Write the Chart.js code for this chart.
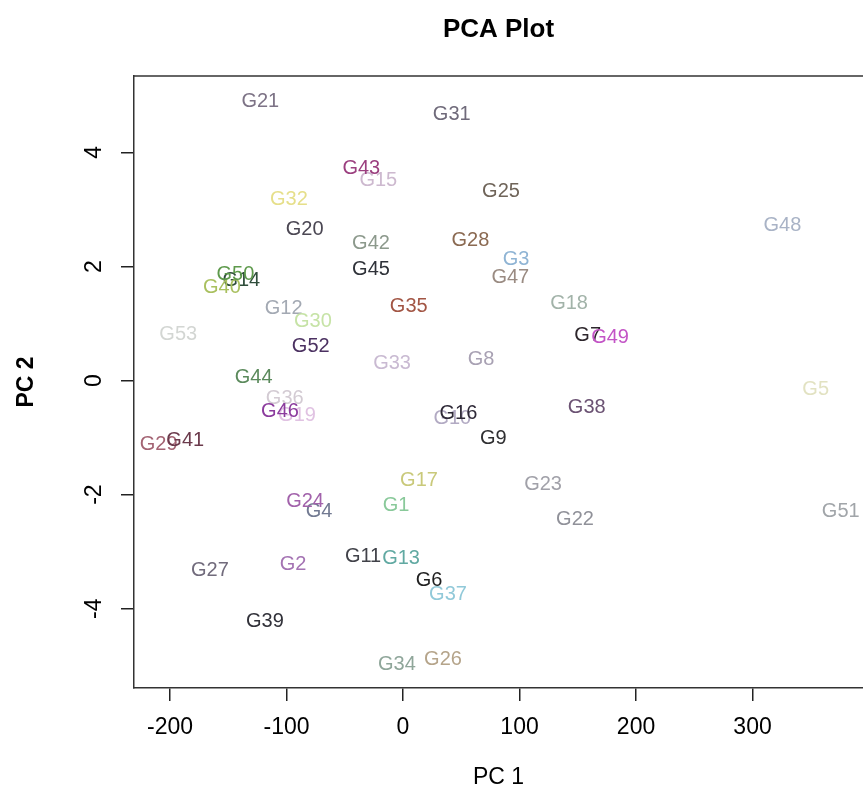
<!DOCTYPE html>
<html>
<head>
<meta charset="utf-8">
<style>
  html, body { margin: 0; padding: 0; background: #ffffff; }
  #wrap { width: 863px; height: 787px; }
</style>
<script src="https://cdn.jsdelivr.net/npm/chart.js@4.4.1/dist/chart.umd.min.js"></script>
</head>
<body>
<div id="wrap"><canvas id="c" width="863" height="787"></canvas></div>
<script>
// ---- data ----
const sampleNames = ["G1","G2","G3","G4","G5","G6","G7","G8","G9","G10",
  "G11","G12","G13","G14","G15","G16","G17","G18","G19","G20",
  "G21","G22","G23","G24","G25","G26","G27","G28","G29","G30",
  "G31","G32","G33","G34","G35","G36","G37","G38","G39","G40",
  "G41","G42","G43","G44","G45","G46","G47","G48","G49","G50",
  "G51","G52","G53"];
const pc1 = [-6.0,-94.4,97.0,-72.1,354.2,22.3,158.5,67.0,77.5,42.3,
  -34.3,-102.4,-1.7,-138.8,-21.2,47.5,13.7,142.5,-91.0,-84.4,
  -122.5,147.6,120.2,-84.1,84.1,34.3,-165.7,57.8,-209.7,-77.3,
  41.8,-97.9,-9.4,-5.2,4.9,-101.5,38.6,157.7,-118.5,-155.4,
  -186.9,-27.5,-35.8,-128.2,-27.5,-105.6,92.1,325.6,177.7,-143.9,
  375.7,-79.2,-192.9];
const pc2 = [-2.18,-3.20,2.14,-2.27,-0.14,-3.48,0.80,0.38,-0.99,-0.64,
  -3.06,1.29,-3.10,1.78,3.52,-0.56,-1.73,1.37,-0.59,2.66,
  4.91,-2.41,-1.80,-2.10,3.34,-4.87,-3.32,2.48,-1.10,1.06,
  4.68,3.19,0.31,-4.96,1.31,-0.29,-3.73,-0.46,-4.20,1.65,
  -1.03,2.42,3.74,0.07,1.96,-0.53,1.83,2.74,0.78,1.88,
  -2.27,0.62,0.82];
const labelColors = ["#89c99a","#a473b3","#8fb4d4","#727a92","#e2e2c2","#1f1f1f","#2d262c","#a8a1b3","#2f2f31","#b2aac3",
  "#414249","#a3a9b3","#61a9a2","#2f4d3b","#cdb9cf","#2e2937","#c9c97a","#a2b3a9","#e0c2e2","#4b4753",
  "#7d7386","#909199","#a1a1a9","#a262ab","#6f6459","#b5a48a","#716b7c","#8b6a52","#a36373","#c6e3a6",
  "#6f6a7a","#e6df8a","#c9bad2","#8fa69a","#a25544","#d3cbd3","#91c9d9","#6b5273","#313139","#a9c05f",
  "#6b3a4c","#8c998c","#9b3f7f","#5b8a5c","#2f3239","#8b3b9d","#9a8b82","#a9b3c6","#c354c6","#5e9a4c",
  "#a1a5a9","#4b3161","#d3d6d3"];
const xTickStep = 100;
const yTickStep = 2;
const xRange = [-230.9, 394.8];
const yRange = [-5.39, 5.34];
const titleText = "PCA Plot";
const xTitle = "PC 1";
const yTitle = "PC 2";

const FONT = "'Liberation Sans', Arial, Helvetica, sans-serif";

const points = pc1.map((v, i) => ({ x: v, y: pc2[i] }));

const textLabelPlugin = {
  id: 'textLabels',
  afterDatasetsDraw(chart) {
    const ctx = chart.ctx;
    const meta = chart.getDatasetMeta(0);
    const a = chart.chartArea;
    ctx.save();
    ctx.beginPath();
    ctx.rect(a.left, a.top, a.right - a.left, a.bottom - a.top);
    ctx.clip();
    ctx.font = "20px " + FONT;
    ctx.textAlign = 'center';
    ctx.textBaseline = 'middle';
    meta.data.forEach((el, i) => {
      ctx.fillStyle = labelColors[i];
      ctx.fillText(sampleNames[i], el.x, el.y + 1);
    });
    ctx.restore();
  }
};

const framePlugin = {
  id: 'frame',
  afterDraw(chart) {
    const ctx = chart.ctx;
    const a = chart.chartArea;
    ctx.save();
    // top edge of the box
    ctx.strokeStyle = '#333333';
    ctx.lineWidth = 1.5;
    ctx.beginPath();
    ctx.moveTo(a.left, a.top);
    ctx.lineTo(a.right, a.top);
    ctx.stroke();
    // main title centred over the plot region
    ctx.fillStyle = '#000000';
    ctx.font = "bold 26px " + FONT;
    ctx.textAlign = 'center';
    ctx.textBaseline = 'middle';
    ctx.fillText(titleText, (a.left + a.right) / 2, 30);
    // rotated y tick labels (R style)
    const ys = chart.scales.y;
    ctx.font = "23px " + FONT;
    ys.ticks.forEach(t => {
      const py = ys.getPixelForValue(t.value);
      ctx.save();
      ctx.translate(95, py);
      ctx.rotate(-Math.PI / 2);
      ctx.fillText(String(t.value), 0, 0);
      ctx.restore();
    });
    ctx.restore();
  }
};

new Chart(document.getElementById('c'), {
  type: 'scatter',
  data: {
    datasets: [{
      data: points,
      pointRadius: 0,
      pointHoverRadius: 0,
      showLine: false
    }]
  },
  options: {
    responsive: false,
    animation: false,
    events: [],
    layout: { padding: { top: 76, left: 0, right: 0, bottom: 0 } },
    plugins: {
      legend: { display: false },
      title: { display: false },
      tooltip: { enabled: false }
    },
    scales: {
      x: {
        type: 'linear',
        min: xRange[0],
        max: xRange[1],
        afterFit(s) { s.height = 99; },
        border: { display: true, color: '#333333', width: 1.5 },
        grid: { display: true, drawOnChartArea: false, drawTicks: true, tickLength: 13, color: '#222222', lineWidth: 1.5 },
        ticks: {
          stepSize: xTickStep,
          includeBounds: false,
          maxRotation: 0,
          minRotation: 0,
          autoSkip: false,
          padding: 13,
          color: '#000000',
          font: { family: FONT, size: 23 }
        },
        title: {
          display: true,
          text: xTitle,
          color: '#000000',
          font: { family: FONT, size: 23, lineHeight: 1 },
          padding: { top: 0, bottom: -2 }
        }
      },
      y: {
        type: 'linear',
        min: yRange[0],
        max: yRange[1],
        afterFit(s) { s.width = 134; },
        border: { display: true, color: '#333333', width: 1.5 },
        grid: { display: true, drawOnChartArea: false, drawTicks: true, tickLength: 13, color: '#222222', lineWidth: 1.5 },
        ticks: {
          stepSize: yTickStep,
          includeBounds: false,
          autoSkip: false,
          color: 'rgba(0,0,0,0)',
          font: { family: FONT, size: 23 }
        },
        title: {
          display: true,
          text: yTitle,
          color: '#000000',
          font: { family: FONT, size: 23, weight: 'bold' },
          padding: { top: 13, bottom: 0 }
        }
      }
    }
  },
  plugins: [textLabelPlugin, framePlugin]
});
</script>
</body>
</html>
